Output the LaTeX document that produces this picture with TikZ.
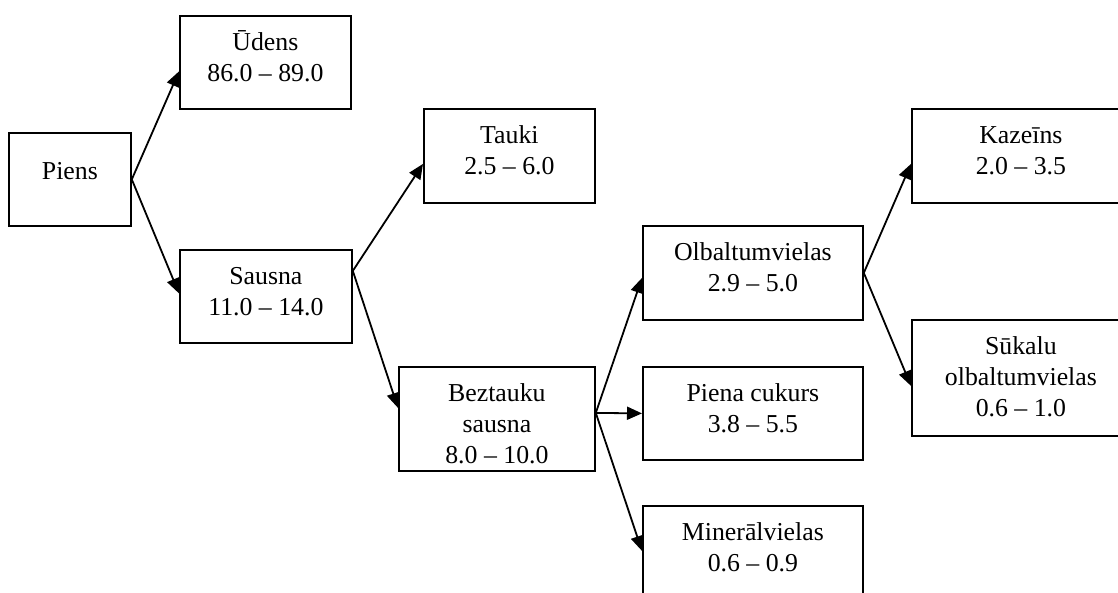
\documentclass[tikz,border=0pt]{standalone}
\usepackage{fontspec}
\setmainfont{Liberation Serif}
\usetikzlibrary{arrows.meta}

% lines of a box, first baseline on top
\newcommand{\stacklines}[1]{\begin{tabular}[t]{@{}c@{}}#1\end{tabular}}

\begin{document}
\begin{tikzpicture}[
    x=0.5pt, y=-0.5pt,
    box/.style={draw, line width=0.9pt, inner sep=0pt, anchor=north west,
        text height=17.5pt, font=\fontsize{12.9}{15.5}\selectfont},
    arrow/.style={-{Triangle[length=7.5pt, width=6.5pt]}, line width=0.9pt}
]
\useasboundingbox (0,0) rectangle (1118,593);
\clip (0,0) rectangle (1118,593);

\node[box, minimum width=61pt, text height=23.5pt, text depth=23pt] (piens) at (8,132) {Piens};
\node[box, minimum width=85.5pt, text depth=29pt] (udens) at (179,15) {\stacklines{Ūdens\\86.0 – 89.0}};
\node[box, minimum width=86pt, text depth=29pt] (sausna) at (179,249) {\stacklines{Sausna\\11.0 – 14.0}};
\node[box, minimum width=85.5pt, text depth=29.5pt] (tauki) at (423,108) {\stacklines{Tauki\\2.5 – 6.0}};
\node[box, minimum width=98pt, text depth=34.5pt] (beztauku) at (398,366) {\stacklines{Beztauku\\sausna\\8.0 – 10.0}};
\node[box, minimum width=110pt, text depth=29.5pt] (olbalt) at (642,225) {\stacklines{Olbaltumvielas\\2.9 – 5.0}};
\node[box, minimum width=110pt, text depth=29pt] (cukurs) at (642,366) {\stacklines{Piena cukurs\\3.8 – 5.5}};
\node[box, minimum width=110pt, text depth=29.5pt] (mineral) at (642,505) {\stacklines{Minerālvielas\\0.6 – 0.9}};
\node[box, minimum width=109pt, text depth=29.5pt] (kazeins) at (911,108) {\stacklines{Kazeīns\\2.0 – 3.5}};
\node[box, minimum width=109pt, text depth=40.5pt] (sukalu) at (911,319) {\stacklines{Sūkalu\\olbaltumvielas\\0.6 – 1.0}};

\draw[arrow] (piens.east) -- ([yshift=-4.5pt]udens.west);
\draw[arrow] (piens.east) -- ([yshift=1.5pt]sausna.west);
\draw[arrow] ([yshift=12.75pt]sausna.east) -- ([yshift=-4pt]tauki.west);
\draw[arrow] ([yshift=12.75pt]sausna.east) -- ([yshift=5.5pt]beztauku.west);
\draw[arrow] ([yshift=3pt]beztauku.east) -- ([yshift=-2.5pt]olbalt.west);
\draw[arrow] ([yshift=3pt]beztauku.east) -- (cukurs.west);
\draw[arrow] ([yshift=3pt]beztauku.east) -- ([yshift=1pt]mineral.west);
\draw[arrow] (olbalt.east) -- ([yshift=-4pt]kazeins.west);
\draw[arrow] (olbalt.east) -- ([yshift=-4pt]sukalu.west);

\end{tikzpicture}
\end{document}
